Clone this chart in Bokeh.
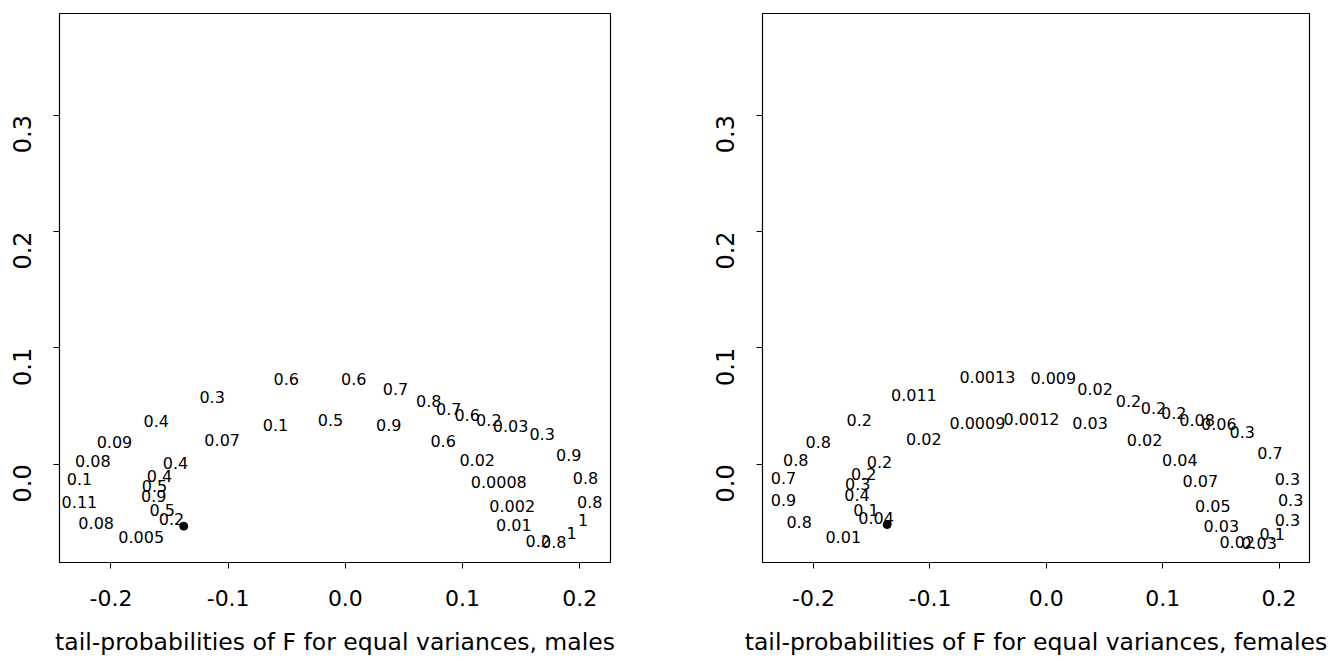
from bokeh.plotting import figure
from bokeh.layouts import row
from bokeh.models import Range1d, FixedTicker, PrintfTickFormatter, ColumnDataSource
from bokeh.core.properties import value
from bokeh.embed import file_html
from bokeh.resources import INLINE
import math

# Label positions (first two principal coordinates) and tail-probabilities, males
males_x = [-0.1137, -0.1614, -0.1051, -0.1970, -0.2155, -0.1450, -0.2269, -0.1586,
           -0.1629, -0.1635, -0.2269, -0.1563, -0.1484, -0.2126, -0.1742,
           -0.0505, 0.0072, 0.0427, -0.0596, -0.0127, 0.0370, 0.0712, 0.0882,
           0.1039, 0.1224, 0.1409, 0.1679, 0.0834, 0.1906, 0.1125, 0.1309,
           0.2049, 0.2085, 0.1423, 0.2029, 0.1437, 0.1929, 0.1645, 0.1778]
males_y = [0.0575, 0.0375, 0.0209, 0.0189, 0.0032, 0.0009, -0.0125, -0.0097,
           -0.0191, -0.0269, -0.0326, -0.0391, -0.0469, -0.0506, -0.0627,
           0.0733, 0.0733, 0.0647, 0.0338, 0.0381, 0.0338, 0.0547, 0.0476,
           0.0427, 0.0381, 0.0332, 0.0261, 0.0203, 0.0083, 0.0038, -0.0155,
           -0.0120, -0.0320, -0.0355, -0.0483, -0.0520, -0.0592, -0.0661, -0.0670]
males_lab = ["0.3", "0.4", "0.07", "0.09", "0.08", "0.4", "0.1", "0.4",
             "0.5", "0.9", "0.11", "0.5", "0.2", "0.08", "0.005",
             "0.6", "0.6", "0.7", "0.1", "0.5", "0.9", "0.8", "0.7",
             "0.6", "0.2", "0.03", "0.3", "0.6", "0.9", "0.02", "0.0008",
             "0.8", "0.8", "0.002", "1", "0.01", "1", "0.2", "0.8"]
males_ref_x = [-0.1379]
males_ref_y = [-0.0532]

# Same layout for females
females_x = [-0.1607, -0.1960, -0.2153, -0.1434, -0.2259, -0.1569, -0.1621, -0.1627,
             -0.2259, -0.1549, -0.1463, -0.2124, -0.1745,
             -0.0506, 0.0060, 0.0419, -0.1138, -0.0592, -0.0127, 0.0376, -0.1052,
             0.0707, 0.0922, 0.1095, 0.1296, 0.1483, 0.1684, 0.0845, 0.1922,
             0.1147, 0.1324, 0.2072, 0.2100, 0.1431, 0.2072, 0.1505, 0.1942,
             0.1641, 0.1828]
females_y = [0.0378, 0.0191, 0.0040, 0.0020, -0.0114, -0.0080, -0.0172, -0.0266,
             -0.0309, -0.0389, -0.0461, -0.0495, -0.0624,
             0.0749, 0.0744, 0.0650, 0.0592, 0.0355, 0.0392, 0.0355, 0.0221,
             0.0543, 0.0487, 0.0444, 0.0384, 0.0349, 0.0277, 0.0212, 0.0097,
             0.0034, -0.0143, -0.0123, -0.0303, -0.0361, -0.0481, -0.0532, -0.0601,
             -0.0667, -0.0676]
females_lab = ["0.2", "0.8", "0.8", "0.2", "0.7", "0.2", "0.3", "0.4",
               "0.9", "0.1", "0.04", "0.8", "0.01",
               "0.0013", "0.009", "0.02", "0.011", "0.0009", "0.0012", "0.03", "0.02",
               "0.2", "0.2", "0.2", "0.08", "0.06", "0.3", "0.02", "0.7",
               "0.04", "0.07", "0.3", "0.3", "0.05", "0.3", "0.03", "0.1",
               "0.02", "0.03"]
females_ref_x = [-0.1368]
females_ref_y = [-0.0518]

x_ticks = [-0.2, -0.1, 0.0, 0.1, 0.2]
y_ticks = [0.0, 0.1, 0.2, 0.3]

FONT = "DejaVu Sans"


def panel(xs, ys, labs, rx, ry, title, width, left, right):
    p = figure(width=width, height=661,
               x_range=Range1d(-0.2439, 0.2262), y_range=Range1d(-0.0844, 0.3872),
               output_backend="svg", toolbar_location=None,
               min_border_left=left, min_border_right=right,
               min_border_top=13, min_border_bottom=99)
    p.grid.visible = False
    p.background_fill_color = "white"
    p.border_fill_color = "white"
    p.outline_line_color = "black"
    p.outline_line_width = 1.2
    p.outline_line_alpha = 1.0

    for ax in (p.xaxis[0], p.yaxis[0]):
        ax.axis_line_color = None
        ax.minor_tick_line_color = None
        ax.major_tick_in = 0
        ax.major_tick_out = 6
        ax.major_tick_line_color = "black"
        ax.major_label_text_font = FONT
        ax.major_label_text_color = "black"
        ax.formatter = PrintfTickFormatter(format="%.1f")

    p.xaxis.ticker = FixedTicker(ticks=x_ticks)
    p.yaxis.ticker = FixedTicker(ticks=y_ticks)
    p.xaxis.major_label_text_font_size = "22px"
    p.xaxis.major_label_standoff = 21
    p.yaxis.major_label_text_font_size = "24px"
    p.yaxis.major_label_orientation = math.pi / 2
    p.yaxis.major_label_standoff = 31

    p.xaxis.axis_label = title
    p.xaxis.axis_label_text_font = FONT
    p.xaxis.axis_label_text_font_size = "23.5px"
    p.xaxis.axis_label_text_font_style = "normal"
    p.xaxis.axis_label_text_color = "black"
    p.xaxis.axis_label_standoff = 19

    src = ColumnDataSource(dict(x=xs, y=ys, t=labs))
    p.text(x="x", y="y", text="t", source=src, text_align="center",
           text_baseline="middle", text_font=value(FONT),
           text_font_size="16px", text_color="black")
    p.scatter(rx, ry, size=8, color="black")
    return p


p1 = panel(males_x, males_y, males_lab, males_ref_x, males_ref_y,
           "tail-probabilities of F for equal variances, males", 665, 59, 55)
p2 = panel(females_x, females_y, females_lab, females_ref_x, females_ref_y,
           "tail-probabilities of F for equal variances, females", 665, 97, 21)

layout = row(p1, p2)
open("out.html", "w").write(file_html(layout, INLINE))
